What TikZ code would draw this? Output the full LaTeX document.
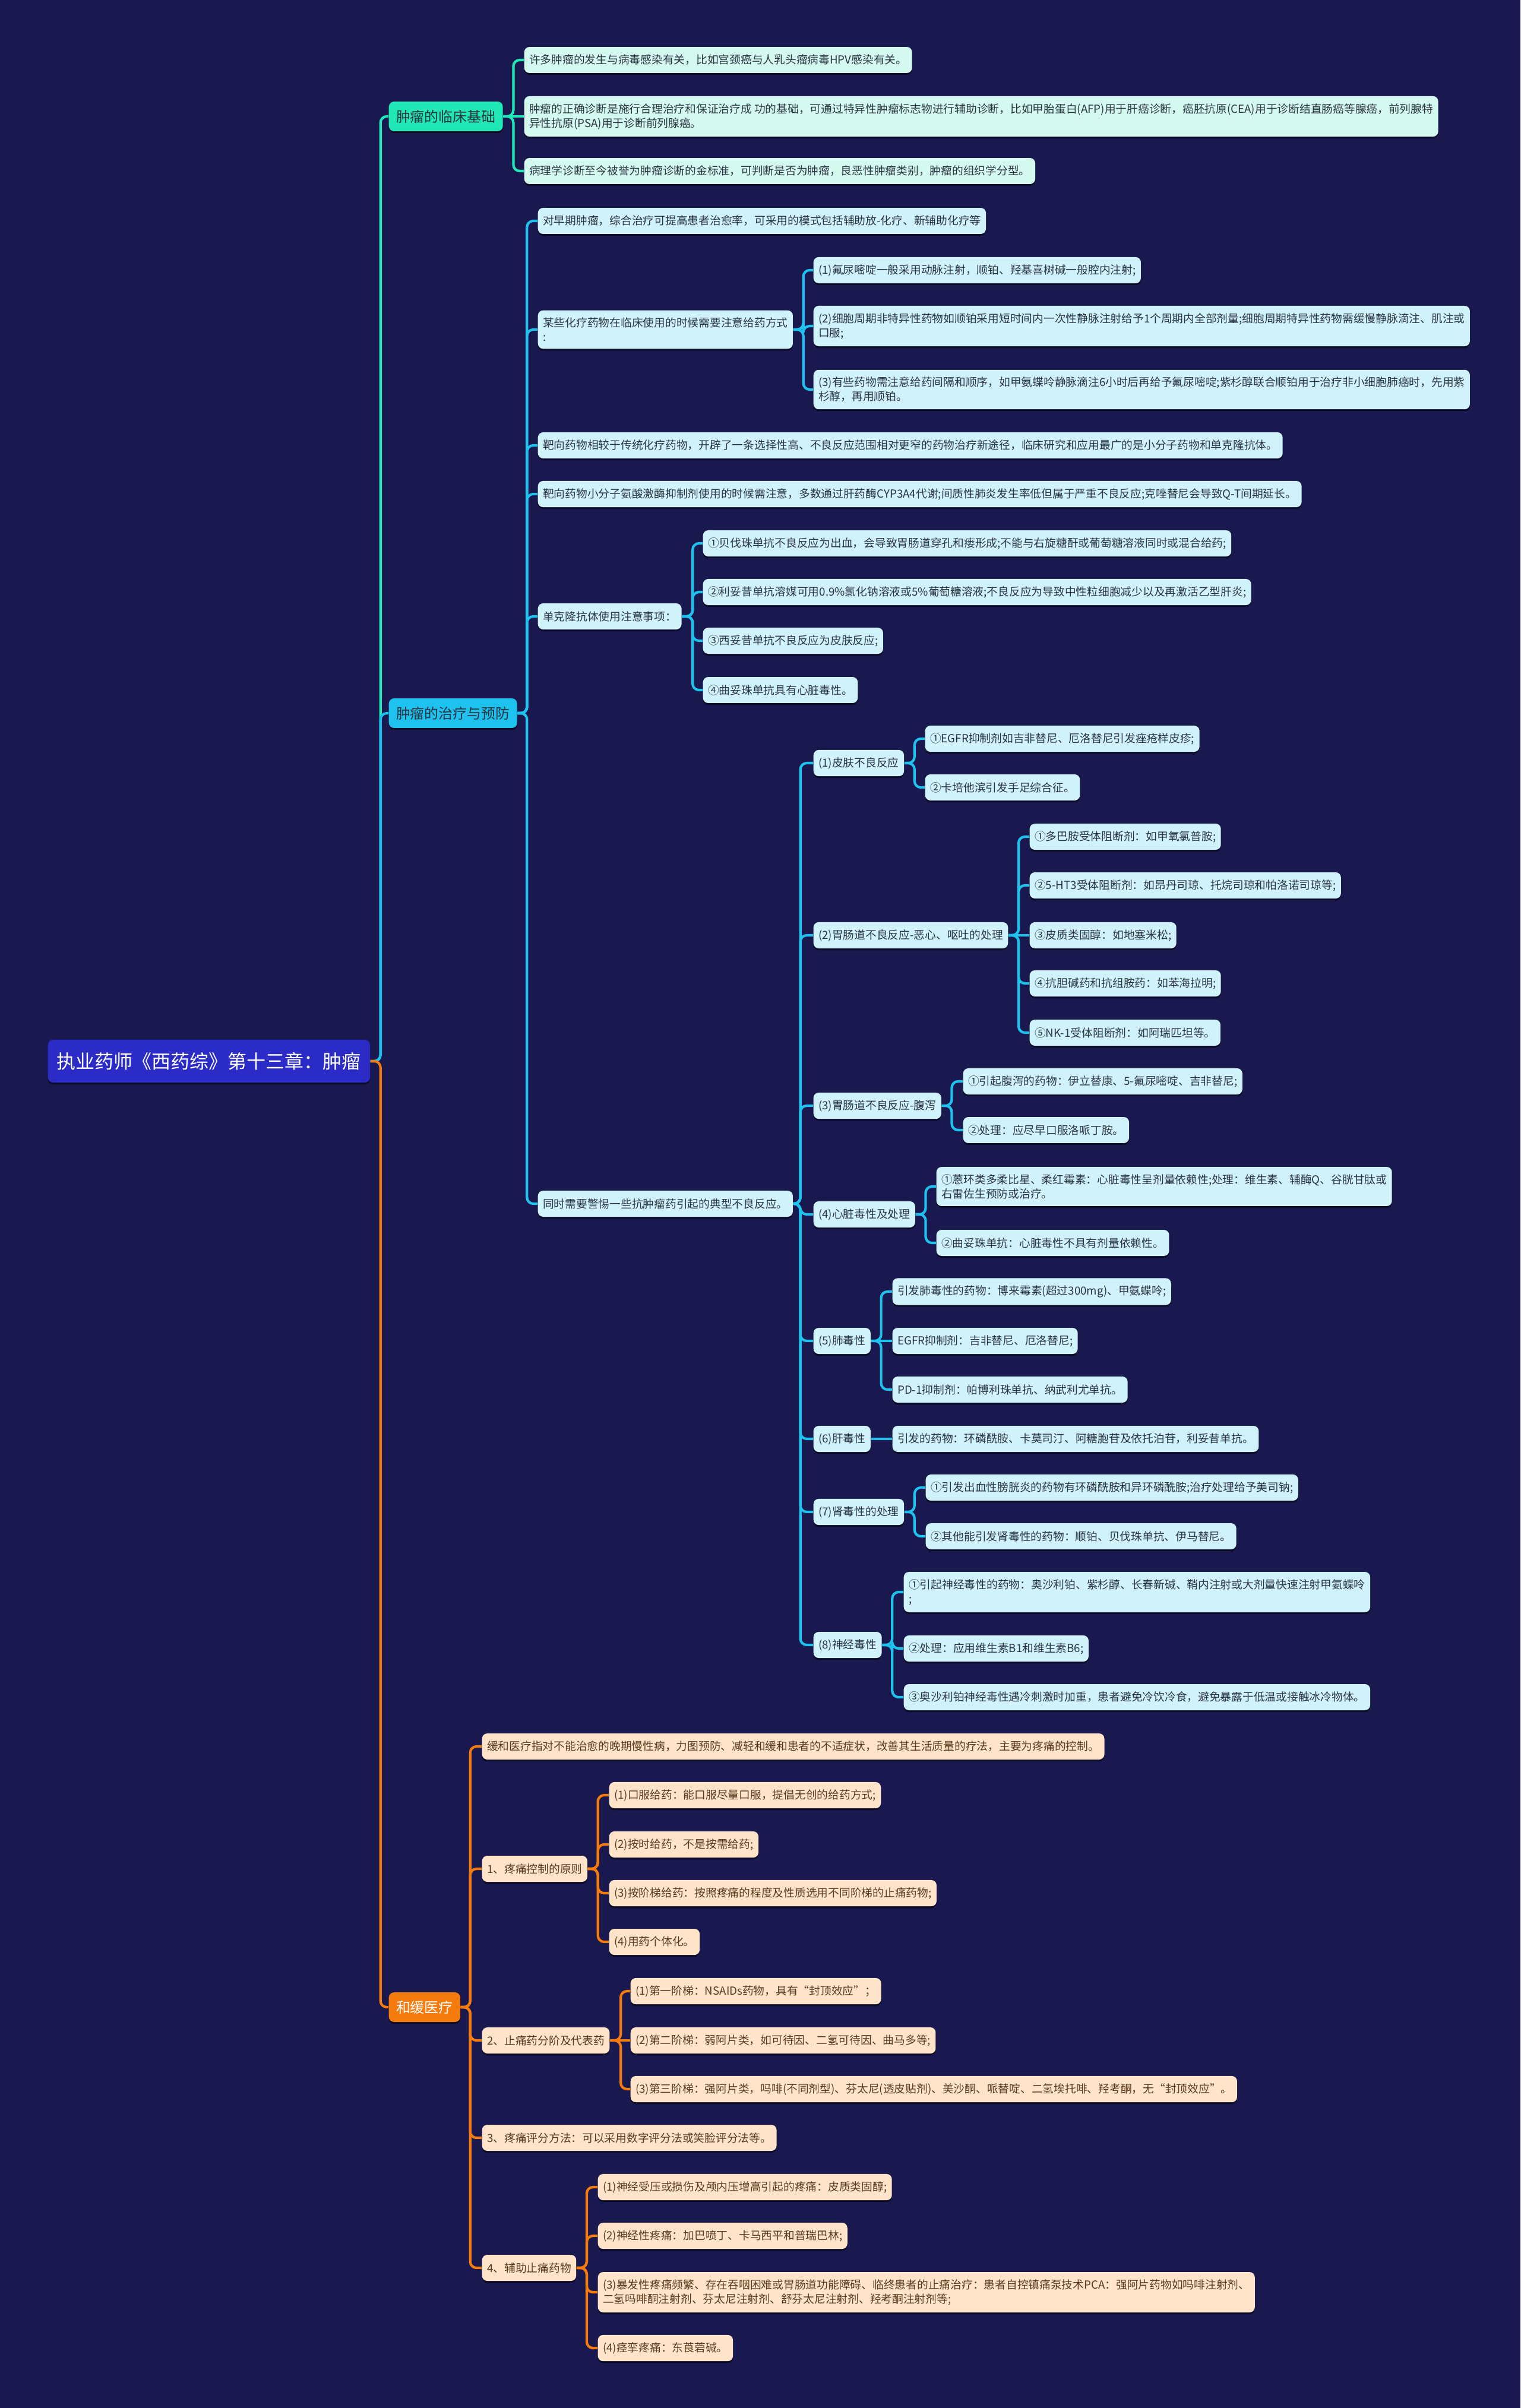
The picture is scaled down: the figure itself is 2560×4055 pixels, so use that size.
\documentclass[tikz,border=0pt]{standalone}
\usepackage{fontspec}
\setmainfont{Noto Sans CJK SC}
\usetikzlibrary{shadows}
\definecolor{bgnavy}{HTML}{19184F}
\definecolor{rootblue}{HTML}{2B2BC8}
\definecolor{mintline}{HTML}{1FE8B6}
\definecolor{mintpale}{HTML}{D4FAF0}
\definecolor{cyanline}{HTML}{1DC2EE}
\definecolor{cyanpale}{HTML}{D0F3FB}
\definecolor{orangeline}{HTML}{F47B0C}
\definecolor{orangepale}{HTML}{FFE4CA}
\definecolor{inkdark}{HTML}{2A3440}
\definecolor{inkbrown}{HTML}{5A3A1C}
\begin{document}
\begin{tikzpicture}[
        x=0.01cm, y=-0.01cm,
        font=\fontsize{5.33pt}{6.8pt}\selectfont,
        box/.style={rounded corners=2.5pt, anchor=west, align=left, inner xsep=2.4pt, inner ysep=3.5pt, minimum height=12.5pt,
            drop shadow={shadow xshift=0pt, shadow yshift=-0.9pt, fill=black, opacity=0.5}},
        root/.style={box, fill=rootblue, text=white, font=\fontsize{9.1pt}{11pt}\selectfont, minimum height=20.5pt, inner xsep=4.3pt},
        topic/.style={box, font=\fontsize{6.8pt}{8pt}\selectfont, minimum height=14.2pt, inner xsep=3.5pt},
        tleaf/.style={box, fill=mintpale, text=inkdark},
        cleaf/.style={box, fill=cyanpale, text=inkdark},
        oleaf/.style={box, fill=orangepale, text=inkbrown},
        tlink/.style={draw=mintline, line width=1.2pt, rounded corners=3pt},
        clink/.style={draw=cyanline, line width=1.2pt, rounded corners=3pt},
        olink/.style={draw=orangeline, line width=1.2pt, rounded corners=3pt}
    ]
        \useasboundingbox (0,0) rectangle (2560,4055);
        \fill[bgnavy] (0,0) rectangle (2560,4055);
        % root and main topics
        \node[root] (root) at (80,1787) {执业药师《西药综》第十三章：肿瘤};
        \node[topic, fill=mintline, text=inkdark] (t1) at (654,196) {肿瘤的临床基础};
        \node[topic, fill=cyanline, text=inkdark] (t2) at (654,1201) {肿瘤的治疗与预防};
        \node[topic, fill=orangeline, text=white] (t3) at (654,3380) {和缓医疗};
        % clinical basis
        \node[tleaf] (a1) at (882,101) {许多肿瘤的发生与病毒感染有关，比如宫颈癌与人乳头瘤病毒HPV感染有关。};
        \node[tleaf] (a2) at (882,196) {肿瘤的正确诊断是施行合理治疗和保证治疗成 功的基础，可通过特异性肿瘤标志物进行辅助诊断，比如甲胎蛋白(AFP)用于肝癌诊断，癌胚抗原(CEA)用于诊断结直肠癌等腺癌，前列腺特\\异性抗原(PSA)用于诊断前列腺癌。};
        \node[tleaf] (a3) at (882,288) {病理学诊断至今被誉为肿瘤诊断的金标准，可判断是否为肿瘤，良恶性肿瘤类别，肿瘤的组织学分型。};
        % treatment and prevention
        \node[cleaf] (c1) at (905,372) {对早期肿瘤，综合治疗可提高患者治愈率，可采用的模式包括辅助放-化疗、新辅助化疗等};
        \node[cleaf] (c2) at (905,555) {某些化疗药物在临床使用的时候需要注意给药方式\\{}:};
        \node[cleaf] (d1) at (1369,455) {(1)氟尿嘧啶一般采用动脉注射，顺铂、羟基喜树碱一般腔内注射;};
        \node[cleaf] (d2) at (1369,549) {(2)细胞周期非特异性药物如顺铂采用短时间内一次性静脉注射给予1个周期内全部剂量;细胞周期特异性药物需缓慢静脉滴注、肌注或\\口服;};
        \node[cleaf] (d3) at (1369,656) {(3)有些药物需注意给药间隔和顺序，如甲氨蝶呤静脉滴注6小时后再给予氟尿嘧啶;紫杉醇联合顺铂用于治疗非小细胞肺癌时，先用紫\\杉醇，再用顺铂。};
        \node[cleaf] (c3) at (905,750) {靶向药物相较于传统化疗药物，开辟了一条选择性高、不良反应范围相对更窄的药物治疗新途径，临床研究和应用最广的是小分子药物和单克隆抗体。};
        \node[cleaf] (c4) at (905,832) {靶向药物小分子氨酸激酶抑制剂使用的时候需注意，多数通过肝药酶CYP3A4代谢;间质性肺炎发生率低但属于严重不良反应;克唑替尼会导致Q-T间期延长。};
        \node[cleaf] (c5) at (905,1038) {单克隆抗体使用注意事项：};
        \node[cleaf] (e1) at (1183,915) {①贝伐珠单抗不良反应为出血，会导致胃肠道穿孔和瘘形成;不能与右旋糖酐或葡萄糖溶液同时或混合给药;};
        \node[cleaf] (e2) at (1183,997) {②利妥昔单抗溶媒可用0.9\%氯化钠溶液或5\%葡萄糖溶液;不良反应为导致中性粒细胞减少以及再激活乙型肝炎;};
        \node[cleaf] (e3) at (1183,1079) {③西妥昔单抗不良反应为皮肤反应;};
        \node[cleaf] (e4) at (1183,1162) {④曲妥珠单抗具有心脏毒性。};
        \node[cleaf] (c6) at (905,2027) {同时需要警惕一些抗肿瘤药引起的典型不良反应。};
        % typical adverse reactions
        \node[cleaf] (g1) at (1369,1285) {(1)皮肤不良反应};
        \node[cleaf] (h11) at (1557,1244) {①EGFR抑制剂如吉非替尼、厄洛替尼引发痤疮样皮疹;};
        \node[cleaf] (h12) at (1557,1326) {②卡培他滨引发手足综合征。};
        \node[cleaf] (g2) at (1369,1575) {(2)胃肠道不良反应-恶心、呕吐的处理};
        \node[cleaf] (h21) at (1733,1409) {①多巴胺受体阻断剂：如甲氧氯普胺;};
        \node[cleaf] (h22) at (1733,1491) {②5-HT3受体阻断剂：如昂丹司琼、托烷司琼和帕洛诺司琼等;};
        \node[cleaf] (h23) at (1733,1575) {③皮质类固醇：如地塞米松;};
        \node[cleaf] (h24) at (1733,1656) {④抗胆碱药和抗组胺药：如苯海拉明;};
        \node[cleaf] (h25) at (1733,1739) {⑤NK-1受体阻断剂：如阿瑞匹坦等。};
        \node[cleaf] (g3) at (1369,1862) {(3)胃肠道不良反应-腹泻};
        \node[cleaf] (h31) at (1621,1821) {①引起腹泻的药物：伊立替康、5-氟尿嘧啶、吉非替尼;};
        \node[cleaf] (h32) at (1621,1903) {②处理：应尽早口服洛哌丁胺。};
        \node[cleaf] (g4) at (1369,2045) {(4)心脏毒性及处理};
        \node[cleaf] (h41) at (1576,1998) {①蒽环类多柔比星、柔红霉素：心脏毒性呈剂量依赖性;处理：维生素、辅酶Q、谷胱甘肽或\\右雷佐生预防或治疗。};
        \node[cleaf] (h42) at (1576,2093) {②曲妥珠单抗：心脏毒性不具有剂量依赖性。};
        \node[cleaf] (g5) at (1369,2258) {(5)肺毒性};
        \node[cleaf] (h51) at (1502,2175) {引发肺毒性的药物：博来霉素(超过300mg)、甲氨蝶呤;};
        \node[cleaf] (h52) at (1502,2258) {EGFR抑制剂：吉非替尼、厄洛替尼;};
        \node[cleaf] (h53) at (1502,2340) {PD-1抑制剂：帕博利珠单抗、纳武利尤单抗。};
        \node[cleaf] (g6) at (1369,2423) {(6)肝毒性};
        \node[cleaf] (h61) at (1502,2423) {引发的药物：环磷酰胺、卡莫司汀、阿糖胞苷及依托泊苷，利妥昔单抗。};
        \node[cleaf] (g7) at (1369,2546) {(7)肾毒性的处理};
        \node[cleaf] (h71) at (1558,2505) {①引发出血性膀胱炎的药物有环磷酰胺和异环磷酰胺;治疗处理给予美司钠;};
        \node[cleaf] (h72) at (1558,2587) {②其他能引发肾毒性的药物：顺铂、贝伐珠单抗、伊马替尼。};
        \node[cleaf] (g8) at (1369,2770) {(8)神经毒性};
        \node[cleaf] (h81) at (1521,2681) {①引起神经毒性的药物：奥沙利铂、紫杉醇、长春新碱、鞘内注射或大剂量快速注射甲氨蝶呤\\{};};
        \node[cleaf] (h82) at (1521,2776) {②处理：应用维生素B1和维生素B6;};
        \node[cleaf] (h83) at (1521,2858) {③奥沙利铂神经毒性遇冷刺激时加重，患者避免冷饮冷食，避免暴露于低温或接触冰冷物体。};
        % palliative care
        \node[oleaf] (p1) at (811,2941) {缓和医疗指对不能治愈的晚期慢性病，力图预防、减轻和缓和患者的不适症状，改善其生活质量的疗法，主要为疼痛的控制。};
        \node[oleaf] (p2) at (811,3147) {1、疼痛控制的原则};
        \node[oleaf] (q21) at (1025,3023) {(1)口服给药：能口服尽量口服，提倡无创的给药方式;};
        \node[oleaf] (q22) at (1025,3106) {(2)按时给药，不是按需给药;};
        \node[oleaf] (q23) at (1025,3188) {(3)按阶梯给药：按照疼痛的程度及性质选用不同阶梯的止痛药物;};
        \node[oleaf] (q24) at (1025,3270) {(4)用药个体化。};
        \node[oleaf] (p3) at (811,3436) {2、止痛药分阶及代表药};
        \node[oleaf] (q31) at (1061,3353) {(1)第一阶梯：NSAIDs药物，具有“封顶效应”；};
        \node[oleaf] (q32) at (1061,3436) {(2)第二阶梯：弱阿片类，如可待因、二氢可待因、曲马多等;};
        \node[oleaf] (q33) at (1061,3518) {(3)第三阶梯：强阿片类，吗啡(不同剂型)、芬太尼(透皮贴剂)、美沙酮、哌替啶、二氢埃托啡、羟考酮，无“封顶效应”。};
        \node[oleaf] (p4) at (811,3600) {3、疼痛评分方法：可以采用数字评分法或笑脸评分法等。};
        \node[oleaf] (p5) at (811,3819) {4、辅助止痛药物};
        \node[oleaf] (q51) at (1006,3683) {(1)神经受压或损伤及颅内压增高引起的疼痛：皮质类固醇;};
        \node[oleaf] (q52) at (1006,3765) {(2)神经性疼痛：加巴喷丁、卡马西平和普瑞巴林;};
        \node[oleaf] (q53) at (1006,3860) {(3)暴发性疼痛频繁、存在吞咽困难或胃肠道功能障碍、临终患者的止痛治疗：患者自控镇痛泵技术PCA：强阿片药物如吗啡注射剂、\\二氢吗啡酮注射剂、芬太尼注射剂、舒芬太尼注射剂、羟考酮注射剂等;};
        \node[oleaf] (q54) at (1006,3954) {(4)痉挛疼痛：东莨菪碱。};
        % connectors
        \draw[tlink] (root.east) -- ++(17,0) |- (t1.west);
        \draw[clink] (root.east) -- ++(17,0) |- (t2.west);
        \draw[olink] (root.east) -- ++(17,0) |- (t3.west);
        \draw[tlink] (t1.east) -- ++(17,0) |- (a1.west); \draw[tlink] (t1.east) -- (a2.west);
        \draw[tlink] (t1.east) -- ++(17,0) |- (a3.west);
        \draw[clink] (t2.east) -- ++(16,0) |- (c1.west); \draw[clink] (t2.east) -- ++(16,0) |- (c2.west);
        \draw[clink] (t2.east) -- ++(16,0) |- (c3.west); \draw[clink] (t2.east) -- ++(16,0) |- (c4.west);
        \draw[clink] (t2.east) -- ++(16,0) |- (c5.west); \draw[clink] (t2.east) -- ++(16,0) |- (c6.west);
        \draw[clink] (c2.east) -- ++(17,0) |- (d1.west); \draw[clink] (c2.east) -- ++(17,0) |- (d2.west);
        \draw[clink] (c2.east) -- ++(17,0) |- (d3.west);
        \draw[clink] (c5.east) -- ++(18,0) |- (e1.west); \draw[clink] (c5.east) -- ++(18,0) |- (e2.west);
        \draw[clink] (c5.east) -- ++(18,0) |- (e3.west); \draw[clink] (c5.east) -- ++(18,0) |- (e4.west);
        \draw[clink] (c6.east) -- ++(12,0) |- (g1.west); \draw[clink] (c6.east) -- ++(12,0) |- (g2.west);
        \draw[clink] (c6.east) -- ++(12,0) |- (g3.west); \draw[clink] (c6.east) -- ++(12,0) |- (g4.west);
        \draw[clink] (c6.east) -- ++(12,0) |- (g5.west); \draw[clink] (c6.east) -- ++(12,0) |- (g6.west);
        \draw[clink] (c6.east) -- ++(12,0) |- (g7.west); \draw[clink] (c6.east) -- ++(12,0) |- (g8.west);
        \draw[clink] (g1.east) -- ++(17,0) |- (h11.west); \draw[clink] (g1.east) -- ++(17,0) |- (h12.west);
        \draw[clink] (g2.east) -- ++(17,0) |- (h21.west); \draw[clink] (g2.east) -- ++(17,0) |- (h22.west);
        \draw[clink] (g2.east) -- (h23.west);
        \draw[clink] (g2.east) -- ++(17,0) |- (h24.west); \draw[clink] (g2.east) -- ++(17,0) |- (h25.west);
        \draw[clink] (g3.east) -- ++(17,0) |- (h31.west); \draw[clink] (g3.east) -- ++(17,0) |- (h32.west);
        \draw[clink] (g4.east) -- ++(17,0) |- (h41.west); \draw[clink] (g4.east) -- ++(17,0) |- (h42.west);
        \draw[clink] (g5.east) -- ++(17,0) |- (h51.west); \draw[clink] (g5.east) -- (h52.west);
        \draw[clink] (g5.east) -- ++(17,0) |- (h53.west);
        \draw[clink] (g6.east) -- (h61.west);
        \draw[clink] (g7.east) -- ++(17,0) |- (h71.west); \draw[clink] (g7.east) -- ++(17,0) |- (h72.west);
        \draw[clink] (g8.east) -- ++(17,0) |- (h81.west); \draw[clink] (g8.east) -- ++(17,0) |- (h82.west);
        \draw[clink] (g8.east) -- ++(17,0) |- (h83.west);
        \draw[olink] (t3.east) -- ++(16,0) |- (p1.west); \draw[olink] (t3.east) -- ++(16,0) |- (p2.west);
        \draw[olink] (t3.east) -- ++(16,0) |- (p3.west); \draw[olink] (t3.east) -- ++(16,0) |- (p4.west);
        \draw[olink] (t3.east) -- ++(16,0) |- (p5.west);
        \draw[olink] (p2.east) -- ++(17,0) |- (q21.west); \draw[olink] (p2.east) -- ++(17,0) |- (q22.west);
        \draw[olink] (p2.east) -- ++(17,0) |- (q23.west); \draw[olink] (p2.east) -- ++(17,0) |- (q24.west);
        \draw[olink] (p3.east) -- ++(18,0) |- (q31.west); \draw[olink] (p3.east) -- (q32.west);
        \draw[olink] (p3.east) -- ++(18,0) |- (q33.west);
        \draw[olink] (p5.east) -- ++(17,0) |- (q51.west); \draw[olink] (p5.east) -- ++(17,0) |- (q52.west);
        \draw[olink] (p5.east) -- ++(17,0) |- (q53.west); \draw[olink] (p5.east) -- ++(17,0) |- (q54.west);
    \end{tikzpicture}
\end{document}
